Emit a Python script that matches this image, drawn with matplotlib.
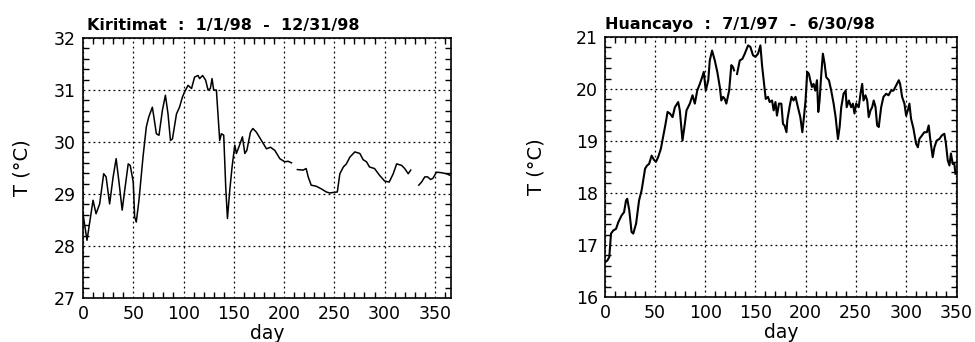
import numpy as np
import matplotlib
matplotlib.use('Agg')
import matplotlib.pyplot as plt
from matplotlib.ticker import MultipleLocator

nan = np.nan

# Kiritimati, 1/1/98 - 12/31/98 (gaps marked with nan)
kiri_day = [0, 4, 10, 13, 16.6, 20.6, 23, 26.5, 30, 33, 36, 39, 41.5, 45, 47, 50,
            51.4, 53, 55.7, 59.7, 63, 65.4, 69, 70.3, 73, 75.6, 79, 82, 84.6, 87,
            89, 93, 96, 99, 101, 104.5, 108, 111, 114.5, 116, 119, 122, 124.4,
            126.7, 128.4, 130, 132.7, 136, 137.7, 140, 142, 143.7, 146, 148.3,
            151, 152.6, 155, 158.6, 161, 163, 166.6, 169, 172.5, 177.5, 182.5,
            186.5, 190.8, 195.8, 200.7, 204, 207.4, 210,
            213.3, 219, 222, 224, 227, 232, 237, 242, 245.5, 249, 253, 255.5,
            259, 262, 265.5, 270.4, 275.4, 278.7, 282, 285, 290, 295, 300,
            304.6, 308.6, 312, 317, 320, 323.5, 326, 330,
            334, 336.8, 340, 342.8, 345.7, 348, 351.6, 356.6, 361.6, 365]
kiri_temp = [28.62, 28.11, 28.88, 28.62, 28.81, 29.39, 29.33, 28.81, 29.33, 29.68,
             29.2, 28.69, 29.07, 29.58, 29.55, 29.23, 28.56, 28.46, 28.88, 29.71,
             30.29, 30.48, 30.67, 30.51, 30.16, 30.13, 30.61, 30.9, 30.54, 30.03,
             30.06, 30.54, 30.67, 30.87, 30.96, 31.09, 31.03, 31.25, 31.28, 31.22,
             31.28, 31.19, 31.0, 31.03, 31.22, 31.0, 31.0, 30.03, 30.16, 30.13,
             29.13, 28.53, 29.07, 29.52, 29.94, 29.78, 29.9, 30.1, 29.78, 29.84,
             30.19, 30.26, 30.19, 30.03, 29.87, 29.9, 29.84, 29.68, 29.62, 29.63,
             29.6, nan,
             29.47, 29.46, 29.49, 29.33, 29.17, 29.15, 29.1, 29.04, 29.02, 29.03,
             29.04, 29.39, 29.52, 29.58, 29.71, 29.81, 29.78, 29.66, 29.62, 29.52,
             29.49, 29.36, 29.25, 29.23, 29.39, 29.58, 29.55, 29.49, 29.39, 29.46,
             nan,
             29.17, 29.23, 29.33, 29.33, 29.28, 29.3, 29.42, 29.41, 29.39, 29.36]

# Huancayo, 7/1/97 - 6/30/98
huan_day = [0, 2.3, 4.3, 6, 8.3, 11, 13.3, 16.6, 19, 21, 22.2, 24.2, 26.5, 28.2,
            31, 34, 36.5, 40, 42, 44, 46.5, 48.8, 50.8, 53, 55.7, 58, 60.4, 62.4,
            64.7, 67.4, 69.7, 73, 74.6, 77.3, 79.6, 81.3, 84.6, 87.3, 89.6, 92,
            94.6, 96.9, 98.5, 100.5, 103, 104.5, 106.8, 109.5, 112, 114.5, 116,
            117.8, 119.4, 121, 123.8, 126, 127.7, 128.7, 130.2,
            131.7, 134.4, 137, 139.4, 142.7, 145, 147.6, 150, 152.6, 155, 156.6,
            158.6, 160.3, 162.6, 164.2, 166.6, 168.2, 170, 171.5, 173.5, 175.9,
            177.5, 179, 181, 181.8, 184, 186, 188, 190, 192.4, 194.8, 196.8,
            198.4, 200, 201.7, 203.4, 204.7, 206.4, 208, 209.7, 211.4, 212.7,
            214, 215.7, 217.3, 219, 220.6, 223.3, 225.6, 228, 230, 232.3, 234,
            235.6, 237.9, 240, 241, 243.2, 245.5, 247.2, 248.8, 250.5, 253,
            254.8, 256.5, 257.8, 259.8, 261.5, 263, 264.8, 266.4, 268, 269.8,
            271.4, 273, 275.4, 277.7, 280.4, 282.7, 285.3, 287.7, 290.3, 293,
            294.3, 296.3, 298.6, 300.3, 302, 303.6, 305.2, 307.6, 310.2, 312,
            313.5, 316.2, 318.5, 321, 322.8, 324.5, 326.8, 328.5, 330.8, 333.5,
            336, 338.4, 340, 341.8, 343.5, 345, 346.8, 348.4, 349.5]
huan_temp = [16.67, 16.7, 16.77, 17.22, 17.28, 17.31, 17.44, 17.57, 17.63, 17.86,
             17.89, 17.67, 17.25, 17.22, 17.41, 17.86, 18.05, 18.47, 18.53, 18.56,
             18.72, 18.64, 18.6, 18.69, 18.85, 19.08, 19.33, 19.56, 19.53, 19.46,
             19.65, 19.75, 19.59, 19.01, 19.33, 19.59, 19.72, 19.88, 19.72, 19.97,
             20.1, 20.23, 20.33, 19.97, 20.17, 20.55, 20.74, 20.55, 20.33, 20.04,
             19.78, 19.85, 19.81, 19.72, 19.97, 20.46, 20.42, 20.36, nan,
             20.29, 20.55, 20.58, 20.68, 20.84, 20.81, 20.65, 20.62, 20.68, 20.84,
             20.46, 20.1, 19.81, 19.85, 19.75, 19.78, 19.59, 19.75, 19.49, 19.72,
             19.72, 19.33, 19.3, 19.17, 19.4, 19.65, 19.85, 19.78, 19.85, 19.65,
             19.46, 19.17, 19.46, 19.78, 20.33, 20.29, 20.17, 20.04, 20.1, 19.97,
             20.17, 19.56, 19.78, 20.29, 20.68, 20.49, 20.23, 20.17, 19.97, 19.72,
             19.46, 19.04, 19.27, 19.65, 19.91, 19.97, 19.65, 19.78, 19.65, 19.72,
             19.53, 19.72, 19.65, 19.91, 20.1, 19.78, 19.88, 19.78, 19.46, 19.59,
             19.65, 19.78, 19.65, 19.3, 19.27, 19.65, 19.85, 19.91, 19.88, 19.97,
             19.97, 20.07, 20.17, 20.1, 19.85, 19.72, 19.49, 19.59, 19.72, 19.43,
             19.24, 18.95, 18.88, 19.04, 19.11, 19.17, 19.17, 19.3, 19.01, 18.69,
             18.88, 19.01, 19.04, 19.11, 19.14, 18.95, 18.63, 18.53, 18.76, 18.56,
             18.56, 18.37]

kiri_title = "Kiritimat  :  1/1/98  -  12/31/98"
huan_title = "Huancayo  :  7/1/97  -  6/30/98"

fig = plt.figure(figsize=(9.75, 3.42), dpi=100)
ax1 = fig.add_axes([0.0851, 0.1287, 0.3774, 0.760])
ax2 = fig.add_axes([0.6205, 0.1316, 0.361, 0.760])


def style(ax, xmax, ymin, ymax, title, labx, tx):
    ax.set_xlim(0, xmax)
    ax.set_ylim(ymin, ymax)
    ax.xaxis.set_major_locator(MultipleLocator(50))
    ax.xaxis.set_minor_locator(MultipleLocator(10))
    ax.yaxis.set_major_locator(MultipleLocator(1))
    ax.yaxis.set_minor_locator(MultipleLocator(0.2))
    ax.tick_params(which='both', direction='in', top=True, right=True,
                   width=1.0, labelsize=12.5, pad=5)
    ax.tick_params(which='major', length=0)
    ax.tick_params(which='minor', length=4)
    ax.grid(True, which='major', color='black', linestyle=(0, (1.5, 2.5)),
            linewidth=0.9)
    for s in ax.spines.values():
        s.set_linewidth(1.2)
    ax.set_xlabel("day", fontsize=13.5, labelpad=0.5)
    ax.set_ylabel("T (°C)", fontsize=14)
    ax.yaxis.set_label_coords(labx, 0.5)
    ax.set_title(title, loc='left', fontsize=11.5, fontweight='bold',
                 family='DejaVu Sans', pad=6, x=tx)


ax1.plot(kiri_day, kiri_temp, color='black', linewidth=1.1)
style(ax1, 366, 27, 32, kiri_title, -0.14, 0.01)

ax2.plot(huan_day, huan_temp, color='black', linewidth=1.5)
style(ax2, 351, 16, 21, huan_title, -0.17, 0.0)

fig.savefig("out.png", dpi=100)
